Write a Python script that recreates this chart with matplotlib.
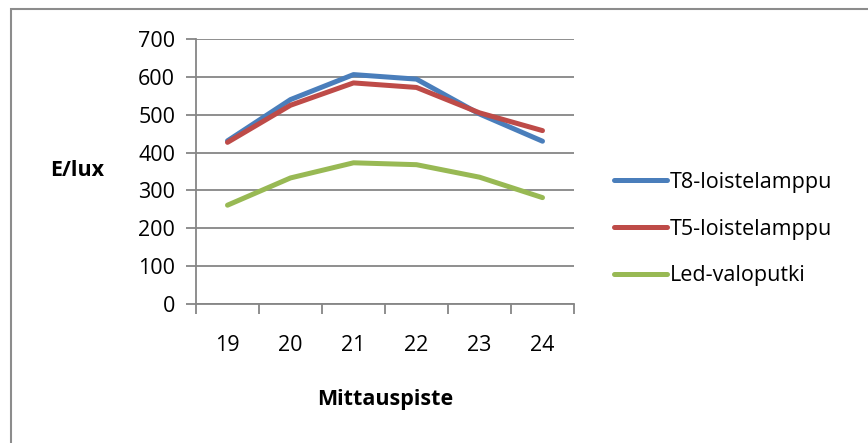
import matplotlib
matplotlib.use("Agg")
import matplotlib.pyplot as plt
from matplotlib.patches import Rectangle

categories = ["19", "20", "21", "22", "23", "24"]
t8 = [431, 540, 606, 594, 502, 430]
t5 = [427, 525, 584, 572, 505, 458]
led = [261, 333, 373, 368, 335, 281]
series_names = ["T8-loistelamppu", "T5-loistelamppu", "Led-valoputki"]
colors = ["#4a7ebb", "#be4b48", "#98b954"]

plt.rcParams['font.family'] = ['Open Sans', 'DejaVu Sans']
FS = 15.5
W, H = 868, 443
fig = plt.figure(figsize=(W/100, H/100), dpi=100)
fig.patches.append(Rectangle((11/W, -0.5), 2, 1.5 - 9/H, transform=fig.transFigure,
                             fill=False, edgecolor="#8c8c8c", linewidth=1.5))

ax = fig.add_axes([196/W, 1 - 304/H, (574-196)/W, (304-39)/H])
gray = "#868686"
xs = [i + 0.5 for i in range(len(categories))]
for vals, name, c in zip([t8, t5, led], series_names, colors):
    ax.plot(xs, vals, color=c, lw=3.6, label=name, solid_capstyle='round', solid_joinstyle='round')

ax.set_xlim(0, 6)
ax.set_ylim(0, 700)
ax.set_yticks(range(0, 701, 100))
ax.set_xticks(range(0, 7))
ax.set_xticklabels([])
ax.set_xticks(xs, minor=True)
ax.set_xticklabels(categories, minor=True)
ax.tick_params(axis='x', which='major', length=7, width=1.3, color=gray, direction='out')
ax.tick_params(axis='x', which='minor', length=0, pad=22, labelsize=FS)
ax.tick_params(axis='y', length=7, width=1.3, color=gray, labelsize=FS, pad=8)
ax.grid(axis='y', color=gray, lw=1.3)
ax.set_axisbelow(True)
for s in ['top', 'right']:
    ax.spines[s].set_visible(False)
for s in ['left', 'bottom']:
    ax.spines[s].set_color(gray)
    ax.spines[s].set_linewidth(1.3)

fig.text(77/W, 1 - 171/H, "E/lux", fontsize=FS, fontweight='bold', ha='center', va='center')
fig.text(385/W, 1 - 400/H, "Mittauspiste", fontsize=FS, fontweight='bold', ha='center', va='center')

leg = ax.legend(loc='center left', bbox_to_anchor=(605/W, 1 - 229/H), bbox_transform=fig.transFigure,
                borderaxespad=0, frameon=False, fontsize=FS, handlelength=2.5,
                handletextpad=0.1, labelspacing=1.2)

fig.savefig("out.png", dpi=100)
